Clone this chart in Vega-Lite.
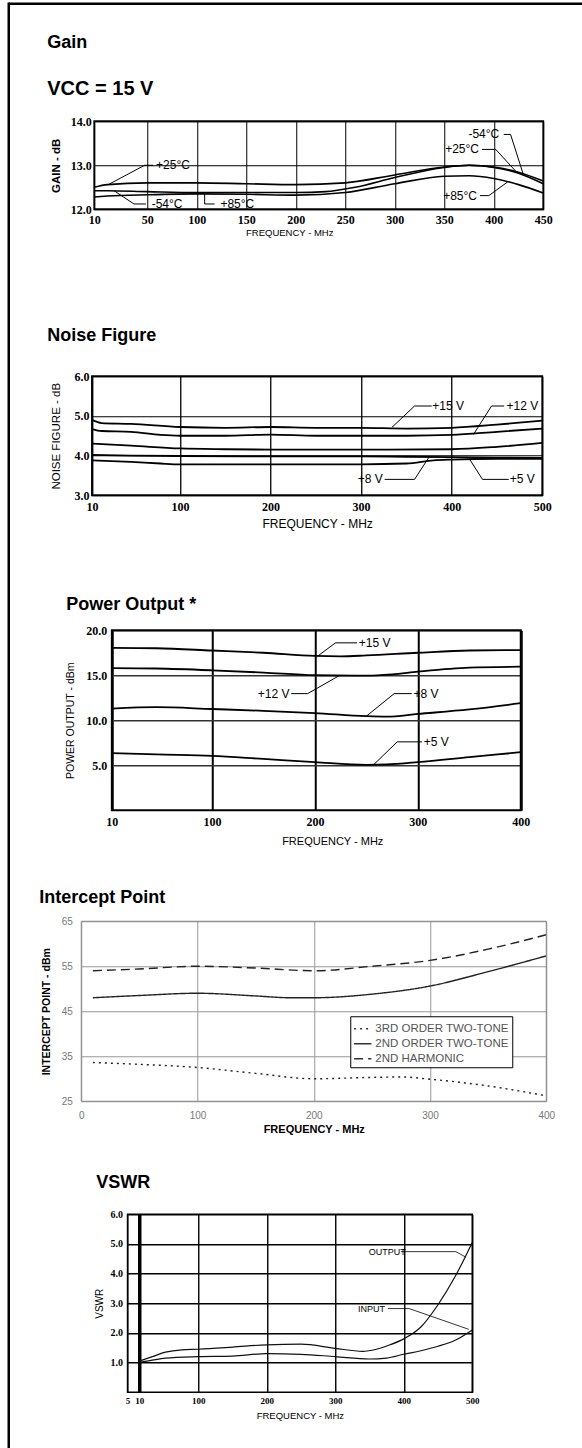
{
"$schema": "https://vega.github.io/schema/vega-lite/v6.json",
"padding": {"left": 5.25, "top": 0.25, "right": 0, "bottom": 0},
"background": "white",
"spacing": 0,
"bounds": "flush",
"config": {
  "view": {"stroke": null},
  "axis": {"domain": false, "ticks": false, "labelFlush": false, "labelOverlap": false, "labelColor": "black", "titleColor": "black", "grid": true, "gridColor": "black", "gridOpacity": 1, "tickCount": 50},
  "title": {"anchor": "start", "frame": "group", "font": "Liberation Sans", "fontSize": 18, "fontWeight": "bold", "color": "black", "align": "left"},
  "line": {"interpolate": "monotone"}
},
"datasets": {
  "spacer": [{}],
  "gainCurves": [
    {"series": "+25°C", "freq": 10, "val": 12.5}, {"series": "+25°C", "freq": 20, "val": 12.56}, {"series": "+25°C", "freq": 50, "val": 12.6}, {"series": "+25°C", "freq": 100, "val": 12.6}, {"series": "+25°C", "freq": 150, "val": 12.58}, {"series": "+25°C", "freq": 200, "val": 12.56}, {"series": "+25°C", "freq": 250, "val": 12.6}, {"series": "+25°C", "freq": 300, "val": 12.78}, {"series": "+25°C", "freq": 350, "val": 12.96}, {"series": "+25°C", "freq": 375, "val": 13.0}, {"series": "+25°C", "freq": 400, "val": 12.95}, {"series": "+25°C", "freq": 425, "val": 12.82}, {"series": "+25°C", "freq": 450, "val": 12.58},
    {"series": "-54°C", "freq": 10, "val": 12.42}, {"series": "-54°C", "freq": 20, "val": 12.42}, {"series": "-54°C", "freq": 50, "val": 12.4}, {"series": "-54°C", "freq": 100, "val": 12.38}, {"series": "-54°C", "freq": 150, "val": 12.38}, {"series": "-54°C", "freq": 200, "val": 12.38}, {"series": "-54°C", "freq": 230, "val": 12.4}, {"series": "-54°C", "freq": 260, "val": 12.5}, {"series": "-54°C", "freq": 300, "val": 12.72}, {"series": "-54°C", "freq": 350, "val": 12.95}, {"series": "-54°C", "freq": 375, "val": 13.0}, {"series": "-54°C", "freq": 400, "val": 12.96}, {"series": "-54°C", "freq": 425, "val": 12.84}, {"series": "-54°C", "freq": 450, "val": 12.64},
    {"series": "+85°C", "freq": 10, "val": 12.28}, {"series": "+85°C", "freq": 20, "val": 12.3}, {"series": "+85°C", "freq": 50, "val": 12.33}, {"series": "+85°C", "freq": 100, "val": 12.35}, {"series": "+85°C", "freq": 150, "val": 12.34}, {"series": "+85°C", "freq": 200, "val": 12.32}, {"series": "+85°C", "freq": 250, "val": 12.38}, {"series": "+85°C", "freq": 300, "val": 12.58}, {"series": "+85°C", "freq": 350, "val": 12.75}, {"series": "+85°C", "freq": 375, "val": 12.76}, {"series": "+85°C", "freq": 400, "val": 12.7}, {"series": "+85°C", "freq": 425, "val": 12.56}, {"series": "+85°C", "freq": 450, "val": 12.37}
  ],
  "gainLeaders": [
    {"freq": 20, "val": 12.55, "freq2": 48, "val2": 13.0}, {"freq": 48, "val": 13.0, "freq2": 56, "val2": 13.0},
    {"freq": 25, "val": 12.42, "freq2": 40, "val2": 12.12}, {"freq": 40, "val": 12.12, "freq2": 49, "val2": 12.12},
    {"freq": 108, "val": 12.35, "freq2": 108, "val2": 12.12}, {"freq": 108, "val": 12.12, "freq2": 118, "val2": 12.12},
    {"freq": 410, "val": 13.7, "freq2": 417, "val2": 13.7}, {"freq": 417, "val": 13.7, "freq2": 430, "val2": 12.78},
    {"freq": 388, "val": 13.36, "freq2": 402, "val2": 13.36}, {"freq": 402, "val": 13.36, "freq2": 424, "val2": 12.82},
    {"freq": 386, "val": 12.31, "freq2": 395, "val2": 12.31}, {"freq": 395, "val": 12.31, "freq2": 414, "val2": 12.62}
  ],
  "gainLabels": [
    {"freq": 76, "val": 13.0, "label": "+25°C"}, {"freq": 70, "val": 12.12, "label": "-54°C"}, {"freq": 141, "val": 12.12, "label": "+85°C"},
    {"freq": 390, "val": 13.7, "label": "-54°C"}, {"freq": 368, "val": 13.36, "label": "+25°C"}, {"freq": 366, "val": 12.31, "label": "+85°C"}
  ],
  "noiseCurves": [
    {"series": "+15 V", "freq": 10, "val": 4.9}, {"series": "+15 V", "freq": 20, "val": 4.82}, {"series": "+15 V", "freq": 50, "val": 4.8}, {"series": "+15 V", "freq": 100, "val": 4.72}, {"series": "+15 V", "freq": 150, "val": 4.7}, {"series": "+15 V", "freq": 200, "val": 4.72}, {"series": "+15 V", "freq": 250, "val": 4.7}, {"series": "+15 V", "freq": 300, "val": 4.7}, {"series": "+15 V", "freq": 350, "val": 4.68}, {"series": "+15 V", "freq": 400, "val": 4.7}, {"series": "+15 V", "freq": 450, "val": 4.78}, {"series": "+15 V", "freq": 500, "val": 4.88},
    {"series": "+12 V", "freq": 10, "val": 4.67}, {"series": "+12 V", "freq": 20, "val": 4.62}, {"series": "+12 V", "freq": 50, "val": 4.6}, {"series": "+12 V", "freq": 80, "val": 4.52}, {"series": "+12 V", "freq": 100, "val": 4.5}, {"series": "+12 V", "freq": 150, "val": 4.5}, {"series": "+12 V", "freq": 200, "val": 4.53}, {"series": "+12 V", "freq": 250, "val": 4.5}, {"series": "+12 V", "freq": 300, "val": 4.5}, {"series": "+12 V", "freq": 350, "val": 4.5}, {"series": "+12 V", "freq": 400, "val": 4.52}, {"series": "+12 V", "freq": 450, "val": 4.6}, {"series": "+12 V", "freq": 500, "val": 4.68},
    {"series": "unlabeled", "freq": 10, "val": 4.3}, {"series": "unlabeled", "freq": 50, "val": 4.25}, {"series": "unlabeled", "freq": 100, "val": 4.18}, {"series": "unlabeled", "freq": 150, "val": 4.16}, {"series": "unlabeled", "freq": 200, "val": 4.15}, {"series": "unlabeled", "freq": 300, "val": 4.15}, {"series": "unlabeled", "freq": 400, "val": 4.16}, {"series": "unlabeled", "freq": 450, "val": 4.22}, {"series": "unlabeled", "freq": 500, "val": 4.32},
    {"series": "+8 V", "freq": 10, "val": 4.02}, {"series": "+8 V", "freq": 50, "val": 4.0}, {"series": "+8 V", "freq": 100, "val": 3.99}, {"series": "+8 V", "freq": 200, "val": 3.98}, {"series": "+8 V", "freq": 300, "val": 3.98}, {"series": "+8 V", "freq": 350, "val": 3.97}, {"series": "+8 V", "freq": 400, "val": 3.96}, {"series": "+8 V", "freq": 450, "val": 3.95}, {"series": "+8 V", "freq": 500, "val": 3.94},
    {"series": "+5 V", "freq": 10, "val": 3.88}, {"series": "+5 V", "freq": 50, "val": 3.84}, {"series": "+5 V", "freq": 80, "val": 3.8}, {"series": "+5 V", "freq": 100, "val": 3.78}, {"series": "+5 V", "freq": 200, "val": 3.78}, {"series": "+5 V", "freq": 300, "val": 3.78}, {"series": "+5 V", "freq": 350, "val": 3.8}, {"series": "+5 V", "freq": 380, "val": 3.88}, {"series": "+5 V", "freq": 400, "val": 3.9}, {"series": "+5 V", "freq": 450, "val": 3.92}, {"series": "+5 V", "freq": 500, "val": 3.92}
  ],
  "noiseLeaders": [
    {"freq": 378, "val": 5.25, "freq2": 359, "val2": 5.25}, {"freq": 359, "val": 5.25, "freq2": 334, "val2": 4.71},
    {"freq": 458, "val": 5.25, "freq2": 444, "val2": 5.25}, {"freq": 444, "val": 5.25, "freq2": 424, "val2": 4.53},
    {"freq": 326, "val": 3.4, "freq2": 359, "val2": 3.4}, {"freq": 359, "val": 3.4, "freq2": 375, "val2": 3.96},
    {"freq": 463, "val": 3.4, "freq2": 434, "val2": 3.4}, {"freq": 434, "val": 3.4, "freq2": 420, "val2": 3.9}
  ],
  "noiseLabels": [
    {"freq": 396, "val": 5.25, "label": "+15 V"}, {"freq": 478, "val": 5.25, "label": "+12 V"}, {"freq": 310, "val": 3.4, "label": "+8 V"}, {"freq": 478, "val": 3.4, "label": "+5 V"}
  ],
  "powerCurves": [
    {"series": "+15 V", "freq": 10, "val": 18.05}, {"series": "+15 V", "freq": 50, "val": 18.0}, {"series": "+15 V", "freq": 100, "val": 17.75}, {"series": "+15 V", "freq": 150, "val": 17.5}, {"series": "+15 V", "freq": 200, "val": 17.15}, {"series": "+15 V", "freq": 225, "val": 17.1}, {"series": "+15 V", "freq": 250, "val": 17.2}, {"series": "+15 V", "freq": 300, "val": 17.5}, {"series": "+15 V", "freq": 350, "val": 17.75}, {"series": "+15 V", "freq": 400, "val": 17.8},
    {"series": "+12 V", "freq": 10, "val": 15.8}, {"series": "+12 V", "freq": 50, "val": 15.75}, {"series": "+12 V", "freq": 100, "val": 15.55}, {"series": "+12 V", "freq": 150, "val": 15.3}, {"series": "+12 V", "freq": 200, "val": 15.0}, {"series": "+12 V", "freq": 250, "val": 14.95}, {"series": "+12 V", "freq": 275, "val": 15.1}, {"series": "+12 V", "freq": 300, "val": 15.4}, {"series": "+12 V", "freq": 350, "val": 15.85}, {"series": "+12 V", "freq": 400, "val": 15.95},
    {"series": "+8 V", "freq": 10, "val": 11.3}, {"series": "+8 V", "freq": 50, "val": 11.45}, {"series": "+8 V", "freq": 100, "val": 11.25}, {"series": "+8 V", "freq": 150, "val": 11.05}, {"series": "+8 V", "freq": 200, "val": 10.8}, {"series": "+8 V", "freq": 250, "val": 10.45}, {"series": "+8 V", "freq": 270, "val": 10.4}, {"series": "+8 V", "freq": 300, "val": 10.7}, {"series": "+8 V", "freq": 350, "val": 11.2}, {"series": "+8 V", "freq": 400, "val": 11.9},
    {"series": "+5 V", "freq": 10, "val": 6.35}, {"series": "+5 V", "freq": 50, "val": 6.2}, {"series": "+5 V", "freq": 100, "val": 6.05}, {"series": "+5 V", "freq": 150, "val": 5.7}, {"series": "+5 V", "freq": 200, "val": 5.35}, {"series": "+5 V", "freq": 250, "val": 5.05}, {"series": "+5 V", "freq": 270, "val": 5.1}, {"series": "+5 V", "freq": 300, "val": 5.35}, {"series": "+5 V", "freq": 350, "val": 5.9}, {"series": "+5 V", "freq": 400, "val": 6.45}
  ],
  "powerLeaders": [
    {"freq": 241, "val": 18.6, "freq2": 220, "val2": 18.6}, {"freq": 220, "val": 18.6, "freq2": 203, "val2": 17.15},
    {"freq": 177, "val": 12.96, "freq2": 193, "val2": 12.96}, {"freq": 193, "val": 12.96, "freq2": 224, "val2": 14.98},
    {"freq": 294, "val": 12.96, "freq2": 277, "val2": 12.96}, {"freq": 277, "val": 12.96, "freq2": 250, "val2": 10.45},
    {"freq": 304, "val": 7.6, "freq2": 280, "val2": 7.6}, {"freq": 280, "val": 7.6, "freq2": 257, "val2": 5.05}
  ],
  "powerLabels": [
    {"freq": 258, "val": 18.6, "label": "+15 V"}, {"freq": 160, "val": 12.96, "label": "+12 V"}, {"freq": 308, "val": 12.96, "label": "+8 V"}, {"freq": 318, "val": 7.6, "label": "+5 V"}
  ],
  "ipCurves": [
    {"series": "3RD ORDER TWO-TONE", "freq": 10, "val": 33.6}, {"series": "3RD ORDER TWO-TONE", "freq": 50, "val": 33.2}, {"series": "3RD ORDER TWO-TONE", "freq": 100, "val": 32.5}, {"series": "3RD ORDER TWO-TONE", "freq": 150, "val": 31.2}, {"series": "3RD ORDER TWO-TONE", "freq": 200, "val": 30.0}, {"series": "3RD ORDER TWO-TONE", "freq": 250, "val": 30.3}, {"series": "3RD ORDER TWO-TONE", "freq": 275, "val": 30.4}, {"series": "3RD ORDER TWO-TONE", "freq": 300, "val": 29.9}, {"series": "3RD ORDER TWO-TONE", "freq": 350, "val": 28.4}, {"series": "3RD ORDER TWO-TONE", "freq": 400, "val": 26.2},
    {"series": "2ND ORDER TWO-TONE", "freq": 10, "val": 48.0}, {"series": "2ND ORDER TWO-TONE", "freq": 50, "val": 48.5}, {"series": "2ND ORDER TWO-TONE", "freq": 100, "val": 49.0}, {"series": "2ND ORDER TWO-TONE", "freq": 150, "val": 48.4}, {"series": "2ND ORDER TWO-TONE", "freq": 180, "val": 48.0}, {"series": "2ND ORDER TWO-TONE", "freq": 200, "val": 48.0}, {"series": "2ND ORDER TWO-TONE", "freq": 250, "val": 48.8}, {"series": "2ND ORDER TWO-TONE", "freq": 300, "val": 50.6}, {"series": "2ND ORDER TWO-TONE", "freq": 350, "val": 53.8}, {"series": "2ND ORDER TWO-TONE", "freq": 400, "val": 57.3},
    {"series": "2ND HARMONIC", "freq": 10, "val": 54.0}, {"series": "2ND HARMONIC", "freq": 50, "val": 54.4}, {"series": "2ND HARMONIC", "freq": 100, "val": 55.0}, {"series": "2ND HARMONIC", "freq": 150, "val": 54.6}, {"series": "2ND HARMONIC", "freq": 200, "val": 54.0}, {"series": "2ND HARMONIC", "freq": 250, "val": 55.0}, {"series": "2ND HARMONIC", "freq": 300, "val": 56.3}, {"series": "2ND HARMONIC", "freq": 350, "val": 58.8}, {"series": "2ND HARMONIC", "freq": 400, "val": 62.0}
  ],
  "vswrCurves": [
    {"series": "OUTPUT", "freq": 10, "val": 1.05}, {"series": "OUTPUT", "freq": 30, "val": 1.2}, {"series": "OUTPUT", "freq": 50, "val": 1.35}, {"series": "OUTPUT", "freq": 75, "val": 1.43}, {"series": "OUTPUT", "freq": 100, "val": 1.45}, {"series": "OUTPUT", "freq": 150, "val": 1.52}, {"series": "OUTPUT", "freq": 200, "val": 1.6}, {"series": "OUTPUT", "freq": 250, "val": 1.62}, {"series": "OUTPUT", "freq": 300, "val": 1.48}, {"series": "OUTPUT", "freq": 340, "val": 1.38}, {"series": "OUTPUT", "freq": 360, "val": 1.45}, {"series": "OUTPUT", "freq": 380, "val": 1.6}, {"series": "OUTPUT", "freq": 400, "val": 1.8}, {"series": "OUTPUT", "freq": 425, "val": 2.2}, {"series": "OUTPUT", "freq": 450, "val": 2.95}, {"series": "OUTPUT", "freq": 475, "val": 3.9}, {"series": "OUTPUT", "freq": 500, "val": 5.05},
    {"series": "INPUT", "freq": 10, "val": 1.0}, {"series": "INPUT", "freq": 30, "val": 1.08}, {"series": "INPUT", "freq": 50, "val": 1.15}, {"series": "INPUT", "freq": 100, "val": 1.2}, {"series": "INPUT", "freq": 150, "val": 1.22}, {"series": "INPUT", "freq": 200, "val": 1.3}, {"series": "INPUT", "freq": 250, "val": 1.28}, {"series": "INPUT", "freq": 300, "val": 1.2}, {"series": "INPUT", "freq": 350, "val": 1.12}, {"series": "INPUT", "freq": 375, "val": 1.15}, {"series": "INPUT", "freq": 400, "val": 1.28}, {"series": "INPUT", "freq": 425, "val": 1.4}, {"series": "INPUT", "freq": 450, "val": 1.55}, {"series": "INPUT", "freq": 475, "val": 1.75}, {"series": "INPUT", "freq": 500, "val": 2.1}
  ],
  "vswrLeaders": [
    {"freq": 396, "val": 4.74, "freq2": 476, "val2": 4.74}, {"freq": 476, "val": 4.74, "freq2": 491, "val2": 4.55},
    {"freq": 377, "val": 2.82, "freq2": 408, "val2": 2.82}, {"freq": 408, "val": 2.82, "freq2": 495, "val2": 2.12}
  ],
  "vswrLabels": [
    {"freq": 376, "val": 4.74, "label": "OUTPUT"}, {"freq": 353, "val": 2.82, "label": "INPUT"}
  ]
},
"hconcat": [
  {"width": 1, "height": 1444, "data": {"name": "spacer"}, "mark": {"type": "point", "opacity": 0}, "encoding": {}, "view": {"stroke": "black", "strokeWidth": 1.5}},
  {
    "spacing": 0,
    "bounds": "flush",
    "vconcat": [
      {"width": 575, "height": 1, "data": {"name": "spacer"}, "mark": {"type": "point", "opacity": 0}, "encoding": {}, "view": {"stroke": "black", "strokeWidth": 1.5}},
      {"width": 575, "height": 117, "data": {"name": "spacer"}, "mark": {"type": "point", "opacity": 0}, "encoding": {}},
      {
        "width": 575, "height": 88,
        "title": {"text": "Gain", "subtitle": "VCC = 15 V", "dx": 38, "offset": 16, "subtitleFont": "Liberation Sans", "subtitleFontSize": 20, "subtitleFontWeight": "bold", "subtitleColor": "black", "subtitlePadding": 27},
        "layer": [
          {"data": {"name": "gainCurves"}, "mark": {"type": "line", "stroke": "black", "strokeWidth": 1.6},
           "encoding": {
             "x": {"field": "freq", "type": "quantitative", "scale": {"domain": [10, 50, 450], "range": [85, 138, 534], "zero": false, "nice": false},
                   "axis": {"title": "FREQUENCY - MHz", "values": [10, 50, 100, 150, 200, 250, 300, 350, 400, 450], "tickCount": 50, "labelOverlap": false, "labelFlush": false, "gridWidth": 1, "labelFont": "Liberation Serif", "labelFontWeight": "bold", "labelFontSize": 12, "labelPadding": 5, "titleFont": "Liberation Sans", "titleFontSize": 9.5, "titleFontWeight": "normal", "titlePadding": 2, "titleX": 280}},
             "y": {"field": "val", "type": "quantitative", "scale": {"domain": [12, 14], "zero": false, "nice": false},
                   "axis": {"title": "GAIN - dB", "values": [12, 13, 14], "tickCount": 50, "format": ".1f", "labelOverlap": false, "labelFlush": false, "offset": -85, "gridWidth": 1, "labelFont": "Liberation Serif", "labelFontWeight": "bold", "labelFontSize": 12, "labelPadding": 3, "titleFont": "Liberation Sans", "titleFontSize": 11.5, "titleFontWeight": "bold", "titlePadding": 9}},
             "detail": {"field": "series", "type": "nominal"}
           }},
          {"data": {"name": "gainLeaders"}, "mark": {"type": "rule", "stroke": "black", "strokeWidth": 1},
           "encoding": {"x": {"field": "freq", "type": "quantitative"}, "y": {"field": "val", "type": "quantitative"}, "x2": {"field": "freq2"}, "y2": {"field": "val2"}}},
          {"data": {"name": "gainLabels"}, "mark": {"type": "text", "font": "Liberation Sans", "fontSize": 12, "align": "center", "baseline": "middle", "color": "black"},
           "encoding": {"x": {"field": "freq", "type": "quantitative"}, "y": {"field": "val", "type": "quantitative"}, "text": {"field": "label"}}},
          {"data": {"name": "spacer"}, "mark": {"type": "rect", "filled": false, "stroke": "black", "strokeWidth": 1.8},
           "encoding": {"x": {"datum": 10}, "x2": {"datum": 450}, "y": {"datum": 12}, "y2": {"datum": 14}}}
        ]
      },
      {"width": 575, "height": 167, "data": {"name": "spacer"}, "mark": {"type": "point", "opacity": 0}, "encoding": {}},
      {
        "width": 575, "height": 119,
        "title": {"text": "Noise Figure", "dx": 38, "offset": 25},
        "layer": [
          {"data": {"name": "noiseCurves"}, "mark": {"type": "line", "stroke": "black", "strokeWidth": 1.8},
           "encoding": {
             "x": {"field": "freq", "type": "quantitative", "scale": {"domain": [10, 100, 500], "range": [82.7, 170.7, 533], "zero": false, "nice": false},
                   "axis": {"title": "FREQUENCY - MHz", "values": [10, 100, 200, 300, 400, 500], "tickCount": 50, "labelOverlap": false, "labelFlush": false, "gridWidth": 1.3, "labelFont": "Liberation Serif", "labelFontWeight": "bold", "labelFontSize": 12, "labelPadding": 6, "titleFont": "Liberation Sans", "titleFontSize": 12, "titleFontWeight": "normal", "titlePadding": 6}},
             "y": {"field": "val", "type": "quantitative", "scale": {"domain": [3, 6], "zero": false, "nice": false},
                   "axis": {"title": "NOISE FIGURE - dB", "values": [3, 4, 5, 6], "tickCount": 50, "format": ".1f", "labelOverlap": false, "labelFlush": false, "offset": -82.7, "gridWidth": 1.2, "labelFont": "Liberation Serif", "labelFontWeight": "bold", "labelFontSize": 12, "labelPadding": 3, "titleFont": "Liberation Sans", "titleFontSize": 11.5, "titleFontWeight": "normal", "titlePadding": 12}},
             "detail": {"field": "series", "type": "nominal"}
           }},
          {"data": {"name": "noiseLeaders"}, "mark": {"type": "rule", "stroke": "black", "strokeWidth": 1},
           "encoding": {"x": {"field": "freq", "type": "quantitative"}, "y": {"field": "val", "type": "quantitative"}, "x2": {"field": "freq2"}, "y2": {"field": "val2"}}},
          {"data": {"name": "noiseLabels"}, "mark": {"type": "text", "font": "Liberation Sans", "fontSize": 12, "align": "center", "baseline": "middle", "color": "black"},
           "encoding": {"x": {"field": "freq", "type": "quantitative"}, "y": {"field": "val", "type": "quantitative"}, "text": {"field": "label"}}},
          {"data": {"name": "spacer"}, "mark": {"type": "rect", "filled": false, "stroke": "black", "strokeWidth": 1.8},
           "encoding": {"x": {"datum": 10}, "x2": {"datum": 500}, "y": {"datum": 3}, "y2": {"datum": 6}}}
        ]
      },
      {"width": 575, "height": 135, "data": {"name": "spacer"}, "mark": {"type": "point", "opacity": 0}, "encoding": {}},
      {
        "width": 575, "height": 180,
        "title": {"text": "Power Output *", "dx": 57, "offset": 10},
        "layer": [
          {"data": {"name": "powerCurves"}, "mark": {"type": "line", "stroke": "black", "strokeWidth": 1.8},
           "encoding": {
             "x": {"field": "freq", "type": "quantitative", "scale": {"domain": [10, 100, 400], "range": [102.6, 202.7, 511.5], "zero": false, "nice": false},
                   "axis": {"title": "FREQUENCY - MHz", "values": [10, 100, 200, 300, 400], "tickCount": 50, "labelOverlap": false, "labelFlush": false, "gridWidth": 2, "labelFont": "Liberation Serif", "labelFontWeight": "bold", "labelFontSize": 12, "labelPadding": 6, "titleFont": "Liberation Sans", "titleFontSize": 11, "titleFontWeight": "normal", "titlePadding": 8, "titleX": 323}},
             "y": {"field": "val", "type": "quantitative", "scale": {"domain": [0, 20], "zero": false, "nice": false},
                   "axis": {"title": "POWER OUTPUT - dBm", "values": [5, 10, 15, 20], "tickCount": 50, "format": ".1f", "labelOverlap": false, "labelFlush": false, "offset": -102.6, "gridWidth": 1.3, "gridColor": "#333", "labelFont": "Liberation Serif", "labelFontWeight": "bold", "labelFontSize": 12, "labelPadding": 5, "titleFont": "Liberation Sans", "titleFontSize": 10.5, "titleFontWeight": "normal", "titlePadding": 10}},
             "detail": {"field": "series", "type": "nominal"}
           }},
          {"data": {"name": "powerLeaders"}, "mark": {"type": "rule", "stroke": "black", "strokeWidth": 1},
           "encoding": {"x": {"field": "freq", "type": "quantitative"}, "y": {"field": "val", "type": "quantitative"}, "x2": {"field": "freq2"}, "y2": {"field": "val2"}}},
          {"data": {"name": "powerLabels"}, "mark": {"type": "text", "font": "Liberation Sans", "fontSize": 12, "align": "center", "baseline": "middle", "color": "black"},
           "encoding": {"x": {"field": "freq", "type": "quantitative"}, "y": {"field": "val", "type": "quantitative"}, "text": {"field": "label"}}},
          {"data": {"name": "spacer"}, "mark": {"type": "rect", "filled": false, "stroke": "black", "strokeWidth": 2},
           "encoding": {"x": {"datum": 10}, "x2": {"datum": 400}, "y": {"datum": 0}, "y2": {"datum": 20}}}
        ]
      },
      {"width": 575, "height": 111, "data": {"name": "spacer"}, "mark": {"type": "point", "opacity": 0}, "encoding": {}},
      {
        "width": 575, "height": 180,
        "title": {"text": "Intercept Point", "dx": 30, "offset": 9},
        "layer": [
          {"data": {"name": "ipCurves"}, "mark": {"type": "line", "stroke": "#222", "strokeWidth": 1.4},
           "encoding": {
             "x": {"field": "freq", "type": "quantitative", "scale": {"domain": [0, 400], "range": [72, 537], "zero": false, "nice": false},
                   "axis": {"title": "FREQUENCY - MHz", "values": [0, 100, 200, 300, 400], "tickCount": 50, "labelOverlap": false, "labelFlush": false, "gridColor": "#999", "gridWidth": 1, "labelFont": "Liberation Sans", "labelFontSize": 10, "labelColor": "#777", "labelPadding": 9, "titleFont": "Liberation Sans", "titleFontSize": 11, "titleFontWeight": "bold", "titlePadding": 3}},
             "y": {"field": "val", "type": "quantitative", "scale": {"domain": [25, 65], "zero": false, "nice": false},
                   "axis": {"title": "INTERCEPT POINT - dBm", "values": [25, 35, 45, 55, 65], "tickCount": 50, "labelOverlap": false, "labelFlush": false, "offset": -72, "gridColor": "#999", "gridWidth": 1, "labelFont": "Liberation Sans", "labelFontSize": 10, "labelColor": "#777", "labelPadding": 9, "titleFont": "Liberation Sans", "titleFontSize": 10.5, "titleFontWeight": "bold", "titlePadding": 10}},
             "strokeDash": {"field": "series", "type": "nominal",
                   "scale": {"domain": ["3RD ORDER TWO-TONE", "2ND ORDER TWO-TONE", "2ND HARMONIC"], "range": [[2, 4], [1, 0], [9, 5]]},
                   "legend": {"title": null, "orient": "none", "legendX": 342, "legendY": 1013, "strokeColor": "black", "fillColor": "white", "padding": 3, "symbolType": "stroke", "symbolSize": 300, "symbolStrokeWidth": 1.3, "symbolStrokeColor": "#333", "labelFont": "Liberation Sans", "labelFontSize": 11.5, "labelColor": "#555", "labelOffset": 3, "rowPadding": 0}}
           }},
          {"data": {"name": "spacer"}, "mark": {"type": "rect", "filled": false, "stroke": "#888", "strokeWidth": 1},
           "encoding": {"x": {"datum": 0}, "x2": {"datum": 400}, "y": {"datum": 25}, "y2": {"datum": 65}}}
        ]
      },
      {"width": 575, "height": 113, "data": {"name": "spacer"}, "mark": {"type": "point", "opacity": 0}, "encoding": {}},
      {
        "width": 575, "height": 178,
        "title": {"text": "VSWR", "dx": 87, "offset": 17},
        "layer": [
          {"data": {"name": "vswrCurves"}, "mark": {"type": "line", "stroke": "#111", "strokeWidth": 1.2},
           "encoding": {
             "x": {"field": "freq", "type": "quantitative", "scale": {"domain": [5, 10, 100, 500], "range": [118.3, 130, 189, 463], "zero": false, "nice": false},
                   "axis": {"title": "FREQUENCY - MHz", "values": [5, 10, 100, 200, 300, 400, 500], "tickCount": 50, "labelOverlap": false, "labelFlush": false, "gridWidth": {"condition": {"test": "datum.value == 10", "value": 3.5}, "value": 1.4}, "labelFont": "Liberation Serif", "labelFontWeight": "bold", "labelFontSize": 9, "labelPadding": 4, "titleFont": "Liberation Sans", "titleFontSize": 9.5, "titleFontWeight": "normal", "titlePadding": 5}},
             "y": {"field": "val", "type": "quantitative", "scale": {"domain": [0, 6], "zero": false, "nice": false},
                   "axis": {"title": "VSWR", "values": [1, 2, 3, 4, 5, 6], "tickCount": 50, "format": ".1f", "labelOverlap": false, "labelFlush": false, "offset": -118.3, "gridWidth": 1.3, "labelFont": "Liberation Serif", "labelFontWeight": "bold", "labelFontSize": 10, "labelPadding": 5, "titleFont": "Liberation Sans", "titleFontSize": 10, "titleFontWeight": "normal", "titlePadding": 6}},
             "detail": {"field": "series", "type": "nominal"}
           }},
          {"data": {"name": "vswrLeaders"}, "mark": {"type": "rule", "stroke": "black", "strokeWidth": 0.8},
           "encoding": {"x": {"field": "freq", "type": "quantitative"}, "y": {"field": "val", "type": "quantitative"}, "x2": {"field": "freq2"}, "y2": {"field": "val2"}}},
          {"data": {"name": "vswrLabels"}, "mark": {"type": "text", "font": "Liberation Sans", "fontSize": 9, "align": "center", "baseline": "middle", "color": "black"},
           "encoding": {"x": {"field": "freq", "type": "quantitative"}, "y": {"field": "val", "type": "quantitative"}, "text": {"field": "label"}}},
          {"data": {"name": "spacer"}, "mark": {"type": "rect", "filled": false, "stroke": "black", "strokeWidth": 1.5},
           "encoding": {"x": {"datum": 5}, "x2": {"datum": 500}, "y": {"datum": 0}, "y2": {"datum": 6}}}
        ]
      }
    ]
  }
]
}
